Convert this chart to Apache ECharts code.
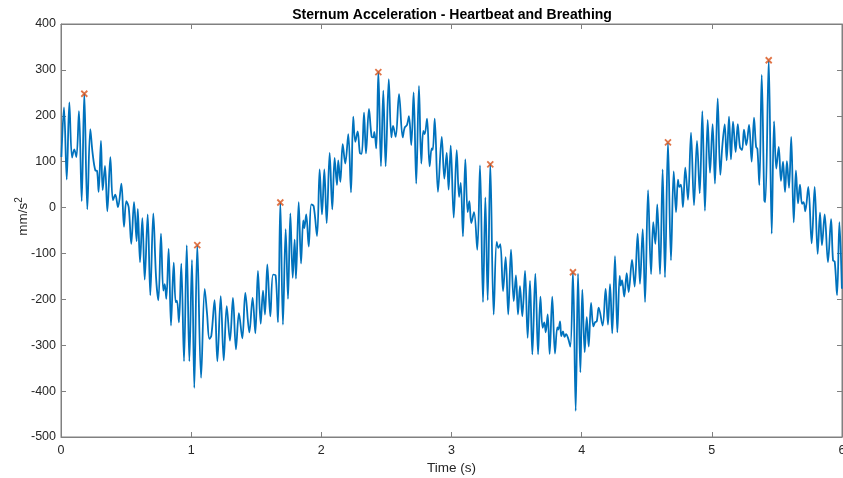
<!DOCTYPE html>
<html>
<head>
<meta charset="utf-8">
<script src="https://cdn.jsdelivr.net/npm/echarts@6/dist/echarts.min.js"></script>
<style>html,body{margin:0;padding:0;background:#fff;}#c{width:843px;height:478px;}</style>
</head>
<body>
<div id="c"></div>
<script>
// time (s) of the signal's turning points
var timeS = [0.003,0.023,0.044,0.064,0.085,0.102,0.118,0.138,0.159,0.179,0.202,0.225,0.243,0.264,0.277,0.289,0.307,0.320,0.338,0.356,0.379,0.399,0.417,0.438,0.464,0.484,0.502,0.520,0.540,0.561,0.581,0.590,
0.607,0.625,0.643,0.666,0.686,0.709,0.730,0.748,0.768,0.786,0.797,0.809,0.827,0.845,0.866,0.881,0.891,0.906,0.924,0.945,0.966,0.986,1.006,1.024,1.047,1.076,1.104,1.122,1.140,1.155,1.180,1.201,
1.227,1.250,1.273,1.298,1.321,1.344,1.367,1.393,1.416,1.447,1.472,1.493,1.513,1.534,1.552,1.567,1.585,1.608,1.629,1.649,1.667,1.685,1.705,1.726,1.744,1.762,1.780,1.795,
1.805,1.826,1.844,1.861,1.869,1.884,1.903,1.923,1.941,1.967,1.987,2.005,2.023,2.041,2.064,2.084,2.102,2.120,2.130,2.146,2.164,2.184,2.207,2.228,2.245,2.261,2.279,2.297,2.310,2.328,2.343,2.366,2.387,
2.400,2.407,2.422,2.438,2.458,2.476,2.494,2.518,2.538,2.551,2.571,2.597,2.625,2.640,2.658,2.673,2.691,2.709,2.729,2.750,2.768,2.783,2.794,2.812,2.832,2.848,2.856,2.871,2.896,2.925,2.945,2.963,2.978,
2.994,3.017,3.040,3.058,3.071,3.088,3.106,3.124,3.137,3.152,3.173,3.198,3.219,3.242,3.260,3.278,3.298,3.324,3.347,3.360,3.375,3.396,3.416,3.436,3.457,3.478,3.495,3.511,3.526,3.544,3.565,3.585,
3.603,3.621,3.644,3.665,3.683,3.700,3.713,3.724,3.739,3.754,3.774,3.795,3.813,3.821,3.834,3.843,3.856,3.869,3.880,3.895,3.913,3.933,3.954,3.972,3.990,4.005,4.023,4.039,4.054,4.072,4.090,4.103,4.116,4.131,4.161,4.184,
4.202,4.218,4.235,4.256,4.274,4.292,4.300,4.310,4.327,4.346,4.361,4.387,4.407,4.430,4.448,4.469,4.487,4.510,4.533,4.550,4.566,4.581,4.602,4.622,4.640,4.663,4.686,4.707,4.725,4.740,4.750,4.763,4.778,4.796,
4.817,4.840,4.863,4.886,4.907,4.927,4.947,4.968,4.986,5.006,5.024,5.045,5.065,5.080,5.099,5.114,5.132,5.147,5.163,5.183,5.199,5.216,5.232,5.247,5.265,5.286,5.306,5.324,5.340,5.350,5.365,5.383,
5.403,5.411,5.437,5.460,5.478,5.495,5.514,5.531,5.547,5.562,5.577,5.593,5.610,5.629,5.646,5.662,5.677,5.693,5.705,5.718,5.741,5.767,5.790,5.813,5.831,5.846,5.867,5.892,5.916,5.931,5.944,5.962,5.980,5.999];

// acceleration (mm/s^2) at those points
var accel = [110,218,61,229,109,127,110,210,14,249,-4,171,118,81,80,34,145,38,91,-8,110,16,28,1,52,-42,14,1,-79,12,-73,-3,
-119,-23,-157,-15,-191,-13,-151,-202,-57,-181,-167,-199,-90,-257,-120,-206,-203,-250,-122,-335,-82,-335,-114,-393,-82,-371,-177,-231,-286,-279,-202,-335,
-193,-333,-215,-290,-197,-309,-230,-285,-186,-272,-197,-274,-138,-253,-181,-233,-124,-237,-146,-148,-250,11,-255,-47,-199,-13,-153,-70,
-155,12,-122,-28,-45,-15,-85,7,3,-62,83,-15,83,-34,119,-4,108,49,103,56,138,96,160,33,198,143,166,118,117,207,118,215,154,
153,165,129,296,90,255,90,280,153,178,154,247,153,174,180,199,136,251,52,265,96,167,160,194,90,129,126,194,34,154,63,119,39,
135,-22,125,23,54,-63,105,-10,14,-34,-10,-92,92,-206,22,-202,95,-233,-75,-88,-80,-182,-108,-233,-92,-204,-148,-233,-171,-237,-138,-284,
-160,-320,-144,-320,-194,-262,-250,-272,-233,-319,-194,-318,-261,-266,-248,-280,-270,-282,-276,-284,-303,-141,-443,-144,-359,-179,-315,-239,-303,-208,-259,-250,-248,-218,-257,-177,
-255,-167,-274,-106,-272,-149,-170,-158,-194,-143,-184,-114,-172,-57,-166,-47,-206,38,-145,-32,-79,7,-145,83,-152,142,-115,79,-10,61,45,50,1,87,
17,163,5,145,31,210,-7,191,76,182,52,238,71,132,181,103,198,105,187,121,182,132,125,170,136,180,100,196,132,128,49,289,
16,12,321,-57,188,85,132,58,100,34,101,43,154,-32,81,9,50,8,12,-8,45,-78,45,-101,-11,-82,-15,-119,-25,-115,-118,-191,-32,-177];

// peak markers
var peakT = [0.179,1.047,1.685,2.438,3.298,3.933,4.663,5.437];
var peakV = [248,-82,11,295,94,-141,142,321];

// ticks
var xTicks = [0,1,2,3,4,5,6];
var yTicks = [-500,-400,-300,-200,-100,0,100,200,300,400];

var lineData = timeS.map(function(t,i){return [t, accel[i]];});
var peakData = peakT.map(function(t,i){return [t, peakV[i]];});

var font = 'Liberation Sans, Arial, Helvetica, sans-serif';
var axisCol = '#808080';
var txtCol = '#262626';

var chart = echarts.init(document.getElementById('c'), null, {renderer:'canvas'});
chart.setOption({
  animation:false,
  backgroundColor:'#fff',
  title:{
    text:'Sternum Acceleration - Heartbeat and Breathing',
    left:447, top:3, textAlign:'center',
    textStyle:{fontFamily:font, fontSize:14, fontWeight:'bold', color:'#000'}
  },
  grid:{left:61, right:1, top:24, bottom:41, show:true, borderColor:axisCol, borderWidth:1,
        outerBoundsMode:'none', containLabel:false},
  xAxis:[{
    type:'value', min:xTicks[0], max:xTicks[xTicks.length-1], interval:1,
    name:'Time (s)', nameLocation:'middle', nameGap:24, nameMoveOverlap:false,
    nameTextStyle:{fontFamily:font, fontSize:13.5, color:txtCol},
    axisLine:{show:true, onZero:false, lineStyle:{color:axisCol}},
    axisTick:{show:true, inside:true, length:5, lineStyle:{color:axisCol}},
    axisLabel:{fontFamily:font, fontSize:12.5, color:txtCol, margin:7},
    splitLine:{show:false}
  },{
    type:'value', position:'top', min:0, max:6, interval:1,
    axisLine:{show:true, onZero:false, lineStyle:{color:axisCol}},
    axisTick:{show:true, inside:true, length:5, lineStyle:{color:axisCol}},
    axisLabel:{show:false}, splitLine:{show:false}
  }],
  yAxis:[{
    type:'value', min:yTicks[0], max:yTicks[yTicks.length-1], interval:100,
    name:'mm/s{sup|2}', nameLocation:'middle', nameGap:28, nameRotate:90, nameMoveOverlap:false,
    nameTextStyle:{fontFamily:font, fontSize:13.5, color:txtCol, padding:[0,0,0,28],
      rich:{sup:{fontFamily:font, fontSize:10, color:txtCol, verticalAlign:'bottom', padding:[0,0,9,0]}}},
    axisLine:{show:true, onZero:false, lineStyle:{color:axisCol}},
    axisTick:{show:true, inside:true, length:5, lineStyle:{color:axisCol}},
    axisLabel:{fontFamily:font, fontSize:12.5, color:txtCol, margin:5},
    splitLine:{show:false}
  },{
    type:'value', position:'right', min:-500, max:400, interval:100,
    axisLine:{show:true, onZero:false, lineStyle:{color:axisCol}},
    axisTick:{show:true, inside:true, length:5, lineStyle:{color:axisCol}},
    axisLabel:{show:false}, splitLine:{show:false}
  }],
  series:[{
    type:'line', data:lineData, showSymbol:false, smooth:0.35,
    lineStyle:{color:'#0072BD', width:1.8},
    itemStyle:{color:'#0072BD'}, z:2
  },{
    type:'scatter', data:peakData, symbol:'path://M0,0L10,10M10,0L0,10',
    symbolSize:6,
    itemStyle:{color:'none', borderColor:'#D95319', borderWidth:1.8}, z:3
  }]
});
</script>
</body>
</html>
